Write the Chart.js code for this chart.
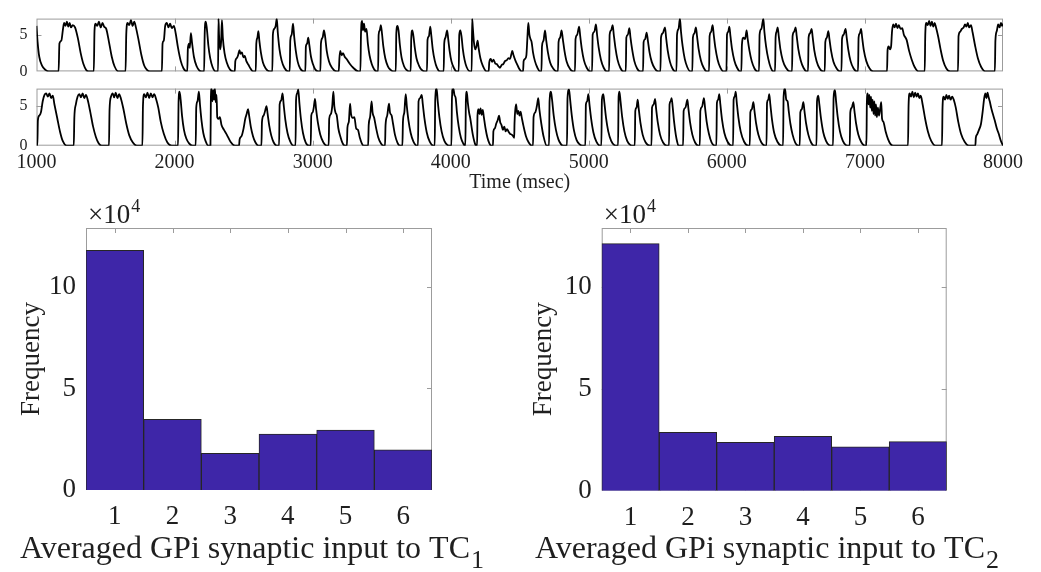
<!DOCTYPE html>
<html>
<head>
<meta charset="utf-8">
<script src="https://cdn.jsdelivr.net/npm/chart.js@4.4.1/dist/chart.umd.min.js"></script>
<style>
  body { margin: 0; background: #fff; width: 1041px; height: 572px; overflow: hidden; position: relative; }
  canvas { position: absolute; }
</style>
</head>
<body>
<canvas id="trace1" width="1041" height="90" style="left:0;top:0"></canvas>
<canvas id="trace2" width="1041" height="125" style="left:0;top:70px"></canvas>
<canvas id="hist1" width="500" height="377" style="left:0;top:195px"></canvas>
<canvas id="hist2" width="521" height="377" style="left:520px;top:195px"></canvas>
<script>
// time axis (msec) and the two traces, [time, value]
const timeTicks = [1000, 2000, 3000, 4000, 5000, 6000, 7000, 8000];
const traceTicks = [0, 5];

const tc1Trace = [
  [1000, 6.2], [1008, 4.0], [1020, 2.0], [1040, 0.8], [1065, 0.2], [1090, 0],
  [1160, 0], [1166, 3.8], [1180, 4.2], [1192, 5.8], [1200, 6.6], [1210, 6.2], [1220, 6.8], [1230, 6.1], [1240, 6.6], [1250, 6.0], [1262, 6.3], [1279, 6.0], [1300, 4.5], [1320, 2.5], [1340, 1.0], [1360, 0.2], [1378, 0],
  [1415, 0], [1420, 5.5], [1428, 6.5], [1440, 6.2], [1452, 6.8], [1465, 6.0], [1478, 6.6], [1490, 6.1], [1505, 5.8], [1525, 4.0], [1545, 2.0], [1565, 0.7], [1593, 0],
  [1645, 0], [1650, 5.0], [1660, 6.6], [1672, 6.3], [1684, 7.0], [1696, 6.2], [1708, 6.8], [1720, 6.0], [1740, 4.2], [1760, 2.2], [1780, 0.8], [1800, 0.2], [1822, 0],
  [1908, 0], [1913, 3.8], [1922, 4.2], [1932, 6.2], [1944, 6.6], [1956, 6.0], [1968, 6.5], [1980, 5.9], [1995, 6.2], [2008, 5.2], [2025, 3.2], [2045, 1.4], [2065, 0.4], [2088, 0],
  [2092, 0], [2096, 3.0], [2104, 3.8], [2110, 3.2], [2118, 5.2], [2126, 4.0], [2140, 2.0], [2160, 0.7], [2180, 0.1], [2196, 0],
  [2214, 0], [2218, 5.0], [2226, 6.8], [2234, 5.8], [2245, 3.5], [2258, 1.8], [2275, 0.6], [2296, 0],
  [2315, 0], [2318, 7.2], [2322, 5.0], [2330, 3.0], [2337, 4.0], [2343, 7.0], [2350, 4.5], [2362, 2.5], [2378, 1.2], [2400, 0.3], [2425, 0],
  [2436, 0], [2440, 1.4], [2450, 1.8], [2460, 2.2], [2470, 2.9], [2478, 2.4], [2488, 2.6], [2498, 1.9], [2508, 2.1], [2520, 1.4], [2535, 0.9], [2550, 0.4], [2570, 0],
  [2588, 0], [2592, 3.8], [2600, 4.6], [2607, 5.5], [2614, 4.2], [2625, 2.6], [2640, 1.2], [2660, 0.4], [2690, 0],
  [2708, 0], [2712, 5.0], [2722, 5.8], [2732, 6.2], [2740, 7.2], [2748, 5.2], [2760, 3.0], [2775, 1.5], [2795, 0.5], [2824, 0],
  [2834, 0], [2838, 4.2], [2848, 5.0], [2858, 6.5], [2866, 4.8], [2878, 2.8], [2892, 1.3], [2910, 0.4], [2937, 0],
  [2947, 0], [2951, 3.4], [2960, 3.8], [2968, 4.6], [2976, 3.6], [2988, 2.0], [3002, 1.0], [3018, 0.3], [3041, 0],
  [3056, 0], [3060, 3.8], [3072, 4.6], [3082, 5.6], [3090, 4.8], [3102, 2.8], [3118, 1.4], [3140, 0.5], [3174, 0],
  [3189, 0], [3194, 1.8], [3200, 2.8], [3210, 2.2], [3220, 2.5], [3232, 2.0], [3246, 1.7], [3270, 1.0], [3294, 0.5], [3331, 0],
  [3346, 0], [3350, 5.0], [3358, 6.9], [3364, 5.6], [3372, 6.5], [3380, 5.4], [3390, 5.8], [3400, 3.8], [3412, 2.2], [3428, 1.0], [3445, 0.3], [3464, 0],
  [3474, 0], [3478, 5.0], [3486, 5.6], [3494, 6.3], [3502, 5.2], [3512, 3.4], [3526, 1.8], [3545, 0.7], [3565, 0.2], [3584, 0],
  [3602, 0], [3606, 5.2], [3614, 6.2], [3622, 5.6], [3632, 3.6], [3645, 1.8], [3662, 0.7], [3680, 0.2], [3698, 0],
  [3710, 0], [3714, 4.4], [3722, 5.6], [3730, 4.8], [3740, 3.2], [3752, 1.8], [3770, 0.8], [3790, 0.2], [3813, 0],
  [3828, 0], [3832, 4.3], [3842, 4.8], [3852, 6.1], [3860, 4.8], [3870, 3.0], [3884, 1.5], [3900, 0.5], [3922, 0],
  [3949, 0], [3953, 3.8], [3962, 4.6], [3974, 5.6], [3982, 4.4], [3992, 2.8], [4005, 1.4], [4022, 0.5], [4043, 0],
  [4058, 0], [4062, 5.0], [4070, 5.6], [4078, 4.8], [4088, 3.0], [4100, 1.6], [4115, 0.6], [4140, 0],
  [4152, 0], [4155, 7.2], [4160, 6.0], [4168, 4.0], [4178, 3.0], [4186, 3.4], [4195, 4.2], [4202, 3.2], [4215, 1.8], [4232, 0.8], [4260, 0],
  [4275, 0], [4279, 1.2], [4290, 1.7], [4300, 1.3], [4310, 1.6], [4322, 1.1], [4333, 1.0], [4345, 0.7], [4357, 0.5], [4370, 0.9], [4381, 1.0], [4393, 1.4], [4405, 1.5], [4418, 1.8], [4429, 1.7], [4440, 2.4], [4446, 2.8], [4455, 2.2], [4468, 1.5], [4480, 1.0], [4495, 0.4], [4514, 0],
  [4524, 0], [4528, 1.4], [4538, 1.7], [4548, 2.2], [4556, 4.8], [4562, 6.6], [4570, 5.0], [4578, 4.4], [4586, 4.0], [4596, 2.6], [4610, 1.4], [4628, 0.5], [4647, 0],
  [4657, 0], [4661, 3.4], [4672, 4.2], [4683, 5.6], [4692, 4.2], [4704, 2.6], [4720, 1.2], [4742, 0.4], [4768, 0],
  [4777, 0], [4781, 4.0], [4792, 4.6], [4803, 5.6], [4812, 4.4], [4824, 2.8], [4840, 1.3], [4862, 0.4], [4888, 0],
  [4900, 0], [4904, 4.4], [4916, 5.0], [4930, 6.1], [4938, 4.8], [4950, 3.0], [4965, 1.5], [4985, 0.5], [5009, 0],
  [5024, 0], [5028, 5.0], [5040, 5.4], [5052, 6.4], [5060, 5.0], [5072, 3.2], [5088, 1.6], [5108, 0.5], [5130, 0],
  [5147, 0], [5151, 5.0], [5162, 5.6], [5173, 6.3], [5181, 5.0], [5193, 3.2], [5208, 1.6], [5228, 0.5], [5250, 0],
  [5268, 0], [5272, 4.6], [5283, 5.0], [5294, 5.9], [5302, 4.6], [5314, 3.0], [5330, 1.4], [5350, 0.4], [5371, 0],
  [5393, 0], [5397, 4.0], [5408, 4.4], [5419, 5.3], [5428, 4.2], [5440, 2.6], [5456, 1.3], [5478, 0.4], [5504, 0],
  [5519, 0], [5523, 4.6], [5536, 5.2], [5552, 6.0], [5560, 4.6], [5572, 2.8], [5588, 1.3], [5606, 0.4], [5625, 0],
  [5635, 0], [5639, 5.0], [5650, 5.8], [5660, 7.2], [5668, 5.4], [5680, 3.4], [5695, 1.7], [5713, 0.6], [5735, 0],
  [5750, 0], [5754, 4.6], [5765, 5.2], [5776, 6.0], [5784, 4.8], [5796, 3.0], [5812, 1.5], [5832, 0.5], [5854, 0],
  [5871, 0], [5875, 4.8], [5886, 5.4], [5897, 6.3], [5905, 5.0], [5917, 3.2], [5933, 1.6], [5953, 0.5], [5974, 0],
  [5997, 0], [6001, 5.0], [6010, 5.4], [6018, 6.1], [6026, 4.8], [6038, 3.0], [6054, 1.5], [6074, 0.5], [6095, 0],
  [6105, 0], [6109, 3.6], [6120, 4.6], [6132, 4.4], [6143, 5.6], [6151, 4.4], [6164, 2.8], [6180, 1.4], [6200, 0.4], [6221, 0],
  [6233, 0], [6237, 5.0], [6250, 5.8], [6264, 7.2], [6272, 5.4], [6284, 3.4], [6300, 1.7], [6318, 0.5], [6337, 0],
  [6349, 0], [6353, 4.6], [6360, 5.4], [6368, 6.0], [6376, 4.8], [6388, 3.0], [6405, 1.5], [6428, 0.5], [6457, 0],
  [6472, 0], [6476, 4.8], [6487, 5.4], [6498, 6.0], [6506, 4.8], [6518, 3.0], [6535, 1.5], [6555, 0.5], [6578, 0],
  [6588, 0], [6592, 4.6], [6603, 5.2], [6614, 5.8], [6622, 4.6], [6634, 2.8], [6650, 1.4], [6672, 0.4], [6699, 0],
  [6709, 0], [6713, 4.0], [6724, 4.6], [6735, 5.5], [6743, 4.4], [6755, 2.8], [6772, 1.3], [6795, 0.4], [6820, 0],
  [6830, 0], [6834, 4.4], [6846, 5.0], [6860, 5.8], [6868, 4.6], [6880, 2.9], [6896, 1.4], [6918, 0.4], [6941, 0],
  [6950, 0], [6954, 4.6], [6963, 5.2], [6972, 5.8], [6980, 4.6], [6992, 2.9], [7010, 1.4], [7034, 0.4], [7061, 0],
  [7160, 0], [7164, 2.9], [7172, 3.4], [7182, 3.0], [7190, 3.5], [7196, 5.4], [7205, 6.4], [7215, 6.0], [7225, 6.5], [7235, 5.9], [7245, 6.3], [7258, 5.8], [7270, 5.9], [7282, 5.0], [7302, 4.3], [7320, 2.8], [7339, 1.6], [7360, 0.6], [7387, 0],
  [7433, 0], [7437, 5.0], [7445, 6.6], [7455, 6.3], [7465, 6.9], [7475, 6.2], [7485, 6.8], [7495, 6.1], [7505, 6.6], [7515, 6.0], [7530, 4.8], [7548, 3.0], [7566, 1.5], [7590, 0.4], [7618, 0],
  [7674, 0], [7678, 4.8], [7690, 5.4], [7702, 5.8], [7715, 6.0], [7725, 6.4], [7735, 6.1], [7745, 6.6], [7755, 6.0], [7768, 6.3], [7780, 5.3], [7798, 3.5], [7818, 1.8], [7842, 0.6], [7871, 0],
  [7941, 0], [7945, 4.2], [7955, 5.5], [7965, 6.4], [7975, 6.0], [7985, 6.6], [7993, 6.2], [8000, 6.5]
];

const tc2Trace = [
  [1000, 0], [1006, 0], [1010, 3.2], [1020, 3.8], [1032, 4.2], [1045, 5.6], [1058, 6.4], [1070, 6.6], [1082, 6.2], [1094, 6.6], [1106, 6.0], [1118, 6.3], [1130, 5.2], [1150, 3.5], [1170, 1.8], [1190, 0.6], [1219, 0],
  [1270, 0], [1274, 3.5], [1285, 5.2], [1298, 6.2], [1310, 6.5], [1322, 6.1], [1334, 6.6], [1346, 6.0], [1358, 6.4], [1372, 5.7], [1390, 4.2], [1410, 2.4], [1430, 1.1], [1450, 0.3], [1472, 0],
  [1525, 0], [1529, 4.5], [1540, 6.2], [1552, 6.6], [1562, 6.1], [1574, 6.7], [1586, 6.0], [1598, 6.5], [1612, 5.9], [1630, 4.6], [1650, 2.8], [1672, 1.3], [1698, 0.4], [1726, 0],
  [1767, 0], [1771, 5.0], [1780, 6.5], [1792, 6.1], [1804, 6.7], [1816, 6.0], [1828, 6.6], [1840, 6.1], [1852, 6.5], [1866, 5.9], [1882, 4.8], [1900, 3.0], [1922, 1.5], [1948, 0.4], [1979, 0],
  [2025, 0], [2029, 5.5], [2036, 6.8], [2044, 5.8], [2054, 3.8], [2068, 2.0], [2085, 0.9], [2105, 0.3], [2131, 0],
  [2153, 0], [2157, 4.8], [2166, 5.6], [2176, 6.8], [2184, 5.2], [2195, 3.2], [2208, 1.6], [2224, 0.6], [2244, 0],
  [2260, 0], [2263, 6.0], [2268, 7.2], [2274, 5.6], [2280, 7.0], [2286, 5.8], [2292, 7.2], [2298, 5.5], [2304, 6.4], [2309, 3.6], [2318, 3.4], [2328, 3.6], [2340, 2.6], [2358, 2.0], [2378, 1.4], [2405, 0.5], [2438, 0],
  [2467, 0], [2471, 0.8], [2485, 1.2], [2500, 2.2], [2512, 3.4], [2522, 4.0], [2532, 4.6], [2540, 3.8], [2552, 2.4], [2568, 1.2], [2586, 0.4], [2607, 0],
  [2629, 0], [2633, 3.0], [2645, 3.8], [2656, 4.4], [2666, 5.0], [2674, 4.0], [2686, 2.5], [2700, 1.3], [2718, 0.4], [2740, 0],
  [2757, 0], [2761, 5.2], [2772, 5.7], [2782, 6.6], [2790, 5.2], [2802, 3.3], [2818, 1.6], [2838, 0.5], [2860, 0],
  [2876, 0], [2880, 5.8], [2888, 6.6], [2896, 7.1], [2904, 5.4], [2915, 3.4], [2930, 1.6], [2950, 0.4], [2975, 0],
  [2986, 0], [2990, 3.8], [3000, 4.2], [3008, 4.8], [3017, 5.9], [3025, 4.6], [3038, 2.9], [3055, 1.4], [3078, 0.4], [3102, 0],
  [3116, 0], [3120, 3.4], [3132, 4.0], [3142, 5.0], [3150, 6.8], [3157, 5.0], [3165, 4.2], [3175, 3.8], [3186, 2.2], [3200, 1.2], [3215, 0.4], [3234, 0],
  [3248, 0], [3252, 2.3], [3262, 3.0], [3271, 5.3], [3278, 4.0], [3290, 3.5], [3302, 3.6], [3315, 2.2], [3328, 2.0], [3342, 1.0], [3356, 0.3], [3370, 0],
  [3402, 0], [3406, 2.6], [3416, 3.6], [3427, 5.6], [3434, 4.2], [3446, 3.5], [3460, 2.2], [3476, 1.0], [3494, 0.3], [3512, 0],
  [3524, 0], [3528, 2.6], [3540, 3.8], [3553, 5.3], [3560, 4.2], [3572, 3.8], [3582, 2.8], [3596, 1.4], [3614, 0.4], [3633, 0],
  [3650, 0], [3654, 3.0], [3664, 4.2], [3674, 6.5], [3682, 5.0], [3694, 3.2], [3710, 1.6], [3730, 0.5], [3754, 0],
  [3763, 0], [3767, 5.6], [3778, 6.0], [3790, 6.4], [3798, 5.2], [3810, 3.4], [3826, 1.7], [3848, 0.5], [3874, 0],
  [3884, 0], [3888, 5.8], [3898, 7.2], [3906, 5.6], [3918, 3.6], [3934, 1.8], [3954, 0.6], [3975, 0.1], [3995, 0],
  [4005, 0], [4009, 6.0], [4019, 7.2], [4027, 6.4], [4036, 6.0], [4045, 4.2], [4058, 2.4], [4074, 1.0], [4090, 0.3], [4103, 0],
  [4106, 0], [4110, 5.8], [4116, 6.8], [4124, 5.4], [4133, 4.2], [4141, 3.5], [4160, 1.4], [4177, 0.2], [4186, 0],
  [4191, 0], [4194, 3.8], [4200, 4.6], [4208, 4.0], [4216, 4.7], [4224, 3.9], [4232, 4.5], [4240, 3.6], [4252, 2.2], [4266, 1.0], [4280, 0.3], [4292, 0],
  [4306, 0], [4309, 1.8], [4320, 2.2], [4330, 2.8], [4340, 3.2], [4350, 3.8], [4358, 3.0], [4368, 2.6], [4378, 2.0], [4388, 2.4], [4398, 1.8], [4408, 2.1], [4418, 1.8], [4430, 1.5], [4442, 1.4], [4452, 1.2], [4460, 1.0],
  [4462, 2.8], [4468, 4.6], [4474, 5.2], [4482, 4.0], [4490, 4.4], [4498, 3.8], [4506, 4.3], [4514, 3.6], [4528, 2.4], [4545, 1.2], [4565, 0.4], [4587, 0],
  [4596, 0], [4600, 3.6], [4612, 4.2], [4624, 5.0], [4634, 6.0], [4642, 4.6], [4656, 2.8], [4672, 1.2], [4695, 0],
  [4712, 0], [4716, 5.6], [4726, 6.8], [4734, 5.8], [4746, 3.8], [4762, 2.0], [4780, 0.8], [4798, 0.2], [4815, 0],
  [4842, 0], [4846, 6.0], [4857, 7.1], [4865, 5.8], [4877, 3.8], [4893, 1.9], [4912, 0.7], [4932, 0.2], [4955, 0],
  [4975, 0], [4979, 5.2], [4988, 5.6], [4997, 6.5], [5005, 5.2], [5017, 3.4], [5033, 1.7], [5055, 0.5], [5081, 0],
  [5091, 0], [5095, 5.8], [5105, 6.5], [5113, 5.4], [5125, 3.5], [5141, 1.8], [5162, 0.6], [5183, 0.1], [5202, 0],
  [5212, 0], [5216, 6.2], [5222, 6.8], [5230, 5.6], [5242, 3.6], [5258, 1.8], [5278, 0.6], [5300, 0.1], [5322, 0],
  [5333, 0], [5337, 4.4], [5346, 4.8], [5354, 5.8], [5362, 4.6], [5374, 2.9], [5390, 1.4], [5412, 0.4], [5443, 0],
  [5454, 0], [5458, 4.8], [5470, 5.2], [5480, 5.9], [5488, 4.6], [5500, 2.9], [5516, 1.4], [5538, 0.4], [5564, 0],
  [5581, 0], [5585, 5.2], [5593, 5.6], [5600, 6.0], [5608, 4.8], [5618, 3.0], [5630, 1.4], [5640, 0.5], [5650, 0],
  [5683, 0], [5687, 4.4], [5700, 4.8], [5714, 5.8], [5722, 4.6], [5734, 2.9], [5750, 1.4], [5770, 0.4], [5793, 0],
  [5804, 0], [5808, 4.4], [5820, 4.9], [5834, 6.0], [5842, 4.8], [5854, 3.0], [5870, 1.5], [5890, 0.4], [5914, 0],
  [5924, 0], [5928, 5.4], [5937, 5.8], [5945, 6.5], [5953, 5.2], [5965, 3.3], [5982, 1.6], [6005, 0.5], [6035, 0],
  [6045, 0], [6049, 5.8], [6057, 6.2], [6064, 6.8], [6072, 5.4], [6084, 3.5], [6100, 1.8], [6125, 0.5], [6155, 0],
  [6166, 0], [6170, 4.2], [6181, 4.6], [6192, 5.5], [6200, 4.4], [6212, 2.8], [6228, 1.4], [6250, 0.4], [6277, 0],
  [6287, 0], [6291, 5.4], [6300, 5.8], [6307, 6.5], [6315, 5.2], [6327, 3.3], [6343, 1.6], [6366, 0.5], [6397, 0],
  [6407, 0], [6411, 6.2], [6421, 7.2], [6430, 5.8], [6440, 5.6], [6448, 4.4], [6460, 2.8], [6476, 1.4], [6495, 0.4], [6517, 0],
  [6528, 0], [6532, 4.2], [6543, 4.6], [6554, 5.5], [6562, 4.4], [6574, 2.8], [6590, 1.4], [6610, 0.4], [6631, 0],
  [6649, 0], [6653, 5.6], [6662, 6.3], [6670, 5.2], [6682, 3.4], [6698, 1.7], [6718, 0.6], [6738, 0.1], [6759, 0],
  [6769, 0], [6773, 6.0], [6783, 7.0], [6791, 5.6], [6803, 3.6], [6819, 1.8], [6840, 0.6], [6860, 0.1], [6880, 0],
  [6890, 0], [6894, 4.2], [6905, 4.8], [6916, 5.5], [6924, 4.4], [6936, 2.8], [6952, 1.4], [6975, 0.4], [7000, 0],
  [7011, 0], [7014, 5.4], [7020, 6.6], [7026, 5.2], [7032, 6.4], [7038, 4.8], [7044, 6.2], [7050, 4.4], [7056, 5.8], [7062, 4.0], [7068, 5.6], [7074, 3.8], [7080, 5.2], [7086, 3.6], [7094, 4.8], [7102, 3.8], [7110, 4.6], [7118, 5.5], [7124, 3.4], [7134, 3.0], [7150, 1.8], [7168, 0.8], [7186, 0.2], [7206, 0],
  [7312, 0], [7316, 5.0], [7324, 6.6], [7334, 6.2], [7344, 6.8], [7354, 6.1], [7364, 6.7], [7374, 6.2], [7384, 6.6], [7394, 6.0], [7404, 6.3], [7418, 5.2], [7436, 3.4], [7456, 1.8], [7480, 0.6], [7511, 0],
  [7558, 0], [7562, 4.8], [7570, 6.2], [7580, 5.8], [7590, 6.4], [7600, 5.9], [7610, 6.3], [7620, 5.8], [7632, 6.2], [7645, 5.7], [7658, 4.8], [7676, 3.0], [7696, 1.5], [7722, 0.5], [7753, 0],
  [7800, 0], [7803, 1.0], [7812, 1.4], [7826, 2.0], [7840, 2.7], [7852, 4.2], [7864, 6.0], [7872, 6.6], [7880, 6.0], [7888, 6.7], [7896, 6.1], [7904, 5.6], [7914, 4.8], [7925, 4.1], [7940, 3.2], [7955, 2.2], [7969, 1.5], [7985, 0.6], [8000, 0]
];

// histograms (frequency in units of 10^4)
const binLabels = ['1', '2', '3', '4', '5', '6'];
const tc1Counts = [11.8, 3.48, 1.8, 2.75, 2.95, 1.98];
const tc2Counts = [12.13, 2.87, 2.38, 2.67, 2.16, 2.41];
const freqTicks = [0, 5, 10];

const serif = '"Liberation Serif", "Times New Roman", serif';
Chart.defaults.font.family = serif;
Chart.defaults.color = '#1f1f1f';
Chart.defaults.animation = false;

// gray box with short inward ticks, like the matlab axes
const framePlugin = {
  id: 'frame',
  beforeDatasetsDraw(chart, args, opts) {
    const { ctx, chartArea: a, scales } = chart;
    ctx.save();
    ctx.strokeStyle = '#9c9c9c';
    ctx.lineWidth = 1;
    ctx.strokeRect(a.left + 0.5, a.top + 0.5, a.right - a.left - 1, a.bottom - a.top - 1);
    ctx.beginPath();
    opts.xTicks.forEach(v => {
      const px = Math.round(scales.x.getPixelForValue(v)) + 0.5;
      if (px < a.left + 2 || px > a.right - 2) return;
      ctx.moveTo(px, a.top); ctx.lineTo(px, a.top + 5);
      ctx.moveTo(px, a.bottom); ctx.lineTo(px, a.bottom - 5);
    });
    opts.yTicks.forEach(v => {
      const py = Math.round(scales.y.getPixelForValue(v)) + 0.5;
      if (py < a.top + 2 || py > a.bottom - 2) return;
      ctx.moveTo(a.left, py); ctx.lineTo(a.left + 5, py);
      ctx.moveTo(a.right, py); ctx.lineTo(a.right - 5, py);
    });
    ctx.stroke();
    ctx.restore();
  }
};

// x10^4 exponent and the axis title with its subscript
const histTextPlugin = {
  id: 'histText',
  afterDraw(chart, args, o) {
    const { ctx, chartArea: a } = chart;
    ctx.save();
    ctx.fillStyle = '#1f1f1f';
    ctx.textBaseline = 'alphabetic';
    ctx.textAlign = 'left';
    ctx.font = '27px ' + serif;
    ctx.fillText('\u00d710', a.left + 2, a.top - 5);
    const w = ctx.measureText('\u00d710').width;
    ctx.font = '18px ' + serif;
    ctx.fillText(o.exponent, a.left + 3 + w, a.top - 16);
    ctx.font = '32px ' + serif;
    ctx.fillText(o.title, o.titleX, 363);
    const tw = ctx.measureText(o.title).width;
    ctx.font = '26px ' + serif;
    ctx.fillText(o.sub, o.titleX + tw + 1, 373);
    ctx.restore();
  }
};

function traceChart(id, points, showTime) {
  return new Chart(document.getElementById(id), {
    type: 'line',
    data: {
      datasets: [{
        data: points.map(([t, v]) => ({ x: t, y: v })),
        borderColor: '#000',
        borderWidth: 1.8,
        pointRadius: 0,
        cubicInterpolationMode: 'monotone'
      }]
    },
    options: {
      responsive: false,
      events: [],
      layout: { padding: { top: 11, right: 38, left: 0, bottom: showTime ? 0 : 15 } },
      plugins: {
        legend: { display: false },
        tooltip: { enabled: false },
        frame: { xTicks: timeTicks, yTicks: traceTicks }
      },
      scales: {
        x: {
          type: 'linear',
          min: 1000,
          max: 8000,
          afterBuildTicks: s => { s.ticks = timeTicks.map(v => ({ value: v })); },
          afterFit: s => { s.height = showTime ? 49.3 : 0; },
          grid: { display: false, drawTicks: false },
          border: { display: false },
          ticks: {
            display: showTime,
            autoSkip: false,
            maxRotation: 0,
            padding: 5,
            font: { size: 20 },
            callback: v => String(v)
          },
          title: {
            display: showTime,
            text: 'Time (msec)',
            font: { size: 20 },
            padding: { top: 0, bottom: 0 }
          }
        },
        y: {
          min: 0,
          max: 7.2,
          afterBuildTicks: s => { s.ticks = traceTicks.map(v => ({ value: v })); },
          afterFit: s => { s.width = 36.5; },
          grid: { display: false, drawTicks: false },
          border: { display: false },
          ticks: { padding: 9, font: { size: 16 } }
        }
      }
    },
    plugins: [framePlugin]
  });
}

function histChart(id, counts, pad, yWidth, xHeight, sub, titleX) {
  return new Chart(document.getElementById(id), {
    type: 'bar',
    data: {
      labels: binLabels,
      datasets: [{
        data: counts,
        backgroundColor: '#3e26a8',
        borderColor: '#262626',
        borderWidth: 1,
        barPercentage: 1,
        categoryPercentage: 1
      }]
    },
    options: {
      responsive: false,
      events: [],
      layout: { padding: pad },
      plugins: {
        legend: { display: false },
        tooltip: { enabled: false },
        frame: { xTicks: [0, 1, 2, 3, 4, 5], yTicks: freqTicks },
        histText: { exponent: '4', title: 'Averaged GPi synaptic input to TC', sub: sub, titleX: titleX }
      },
      scales: {
        x: {
          afterFit: s => { s.height = xHeight; },
          grid: { display: false, drawTicks: false },
          border: { display: false },
          ticks: { padding: 11, font: { size: 27 }, maxRotation: 0 }
        },
        y: {
          min: 0,
          max: 12.9,
          afterBuildTicks: s => { s.ticks = freqTicks.map(v => ({ value: v })); },
          afterFit: s => { s.width = yWidth; },
          grid: { display: false, drawTicks: false },
          border: { display: false },
          ticks: { padding: 10, font: { size: 27 } },
          title: { display: true, text: 'Frequency', font: { size: 27 }, padding: 0 }
        }
      }
    },
    plugins: [framePlugin, histTextPlugin]
  });
}

traceChart('trace1', tc1Trace, false);
traceChart('trace2', tc2Trace, true);
histChart('hist1', tc1Counts, { top: 33, right: 68, left: 16, bottom: 0 }, 70, 82, '1', 20);
histChart('hist2', tc2Counts, { top: 33, right: 94.3, left: 8, bottom: 0 }, 73.7, 81.3, '2', 15);
</script>
</body>
</html>
